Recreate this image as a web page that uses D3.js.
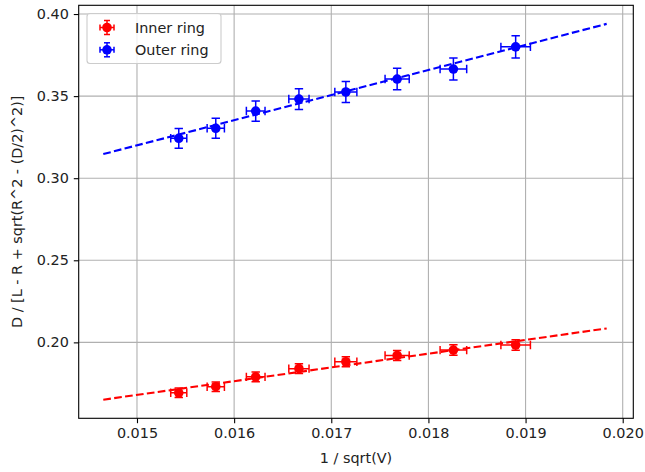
<!DOCTYPE html>
<html><head><meta charset="utf-8">
<script src="https://cdn.jsdelivr.net/npm/d3@7"></script>
<style>body{margin:0;background:#fff}svg{display:block}text{font-family:"DejaVu Sans",sans-serif;fill:#222}</style>
</head><body>
<script>
const xVals = [0.015430, 0.015811, 0.016222, 0.016667, 0.017150, 0.017678, 0.018257, 0.018898];
const xErr = [0.0000827, 0.0000889, 0.0000960, 0.0001042, 0.0001135, 0.0001243, 0.0001369, 0.0001519];
const innerY = [0.1693, 0.1730, 0.1790, 0.1840, 0.1882, 0.1920, 0.1953, 0.1984];
const innerErr = [0.0029, 0.0029, 0.0030, 0.0030, 0.0031, 0.0031, 0.0032, 0.0032];
const outerY = [0.3243, 0.3304, 0.3409, 0.3482, 0.3525, 0.3604, 0.3665, 0.3800];
const outerErr = [0.0060, 0.0061, 0.0062, 0.0063, 0.0064, 0.0065, 0.0067, 0.0068];
const fitX = [0.014653, 0.019835];
const innerFit = [0.1651, 0.2085];
const outerFit = [0.3147, 0.3940];
const xTicks = [0.015, 0.016, 0.017, 0.018, 0.019, 0.020];
const yTicks = [0.20, 0.25, 0.30, 0.35, 0.40];
const seriesNames = ["Inner ring", "Outer ring"];
const seriesColors = ["#ff0000", "#0000ff"];

const W = 645, H = 472;
const L = 78.7, R = 633.3, T = 5.3, B = 418.3;
const FS = "14.4px";
const svg = d3.select("body").append("svg").attr("width", W).attr("height", H);
const x = d3.scaleLinear().domain([0.014400, 0.020109]).range([L, R]);
const y = d3.scaleLinear().domain([0.15375, 0.40532]).range([B, T]);

// grid
const g = svg.append("g");
g.selectAll(".gx").data(xTicks).join("line")
  .attr("x1", d => x(d)).attr("x2", d => x(d)).attr("y1", T).attr("y2", B)
  .attr("stroke", "#b0b0b0").attr("stroke-width", 1.1);
g.selectAll(".gy").data(yTicks).join("line")
  .attr("y1", d => y(d)).attr("y2", d => y(d)).attr("x1", L).attr("x2", R)
  .attr("stroke", "#b0b0b0").attr("stroke-width", 1.1);

// axes
const xAxis = d3.axisBottom(x).tickValues(xTicks).tickFormat(d3.format(".3f")).tickSizeOuter(0).tickSize(4.9).tickPadding(4.9);
const yAxis = d3.axisLeft(y).tickValues(yTicks).tickFormat(d3.format(".2f")).tickSizeOuter(0).tickSize(4.9).tickPadding(4.9);
const ax = svg.append("g").attr("transform", `translate(0,${B})`).call(xAxis);
const ay = svg.append("g").attr("transform", `translate(${L},0)`).call(yAxis);
[ax, ay].forEach(a => {
  a.select(".domain").remove();
  a.selectAll(".tick line").attr("stroke", "#000").attr("stroke-width", 1.1);
  a.selectAll(".tick text").style("font-size", FS).style("font-family", "DejaVu Sans").attr("fill", "#222");
});

const series = [
  {ys: innerY, err: innerErr, fit: innerFit, color: seriesColors[0]},
  {ys: outerY, err: outerErr, fit: outerFit, color: seriesColors[1]}
];

const clip = svg.append("clipPath").attr("id", "c").append("rect").attr("x", L).attr("y", T).attr("width", R - L).attr("height", B - T);
const plot = svg.append("g").attr("clip-path", "url(#c)");
const line = d3.line().x(d => x(d[0])).y(d => y(d[1]));

series.forEach(s => {
  const pts = xVals.map((xv, i) => ({x: xv, y: s.ys[i], ex: xErr[i], ey: s.err[i]}));
  const eg = plot.append("g").attr("stroke", s.color).attr("stroke-width", 1.5);
  pts.forEach(p => {
    const cx = x(p.x), cy = y(p.y);
    const x0 = x(p.x - p.ex), x1 = x(p.x + p.ex), y0 = y(p.y - p.ey), y1 = y(p.y + p.ey);
    const c = 4.2;
    eg.append("line").attr("x1", x0).attr("x2", x1).attr("y1", cy).attr("y2", cy);
    eg.append("line").attr("x1", cx).attr("x2", cx).attr("y1", y0).attr("y2", y1);
    eg.append("line").attr("x1", x0).attr("x2", x0).attr("y1", cy - c).attr("y2", cy + c);
    eg.append("line").attr("x1", x1).attr("x2", x1).attr("y1", cy - c).attr("y2", cy + c);
    eg.append("line").attr("x1", cx - c).attr("x2", cx + c).attr("y1", y0).attr("y2", y0);
    eg.append("line").attr("x1", cx - c).attr("x2", cx + c).attr("y1", y1).attr("y2", y1);
  });
  plot.append("g").selectAll("circle").data(pts).join("circle")
    .attr("cx", d => x(d.x)).attr("cy", d => y(d.y)).attr("r", 4.8).attr("fill", s.color);
  plot.append("path").datum([[fitX[0], s.fit[0]], [fitX[1], s.fit[1]]])
    .attr("d", line).attr("fill", "none").attr("stroke", s.color)
    .attr("stroke-width", 2.1).attr("stroke-dasharray", "7.7,3.3");
});

// frame
svg.append("rect").attr("x", L).attr("y", T).attr("width", R - L).attr("height", B - T)
  .attr("fill", "none").attr("stroke", "#000").attr("stroke-width", 1.1);

// labels
svg.append("text").attr("x", (L + R) / 2).attr("y", 463).attr("text-anchor", "middle")
  .style("font-size", FS).text("1 / sqrt(V)");
svg.append("text").attr("transform", `translate(22,${(T + B) / 2}) rotate(-90)`).attr("text-anchor", "middle")
  .style("font-size", FS).text("D / [L - R + sqrt(R^2 - (D/2)^2)]");

// legend
const lg = svg.append("g");
lg.append("rect").attr("x", 87).attr("y", 13.5).attr("width", 134).attr("height", 50).attr("rx", 3)
  .attr("fill", "#fff").attr("fill-opacity", 0.8).attr("stroke", "#ccc").attr("stroke-width", 1.1);
seriesNames.forEach((n, i) => {
  const cy = 27.5 + i * 22.3, cx = 107;
  const col = seriesColors[i];
  const gg = lg.append("g").attr("stroke", col).attr("stroke-width", 1.5);
  gg.append("line").attr("x1", cx - 7).attr("x2", cx + 7).attr("y1", cy).attr("y2", cy);
  gg.append("line").attr("x1", cx).attr("x2", cx).attr("y1", cy - 7).attr("y2", cy + 7);
  gg.append("line").attr("x1", cx - 7).attr("x2", cx - 7).attr("y1", cy - 3).attr("y2", cy + 3);
  gg.append("line").attr("x1", cx + 7).attr("x2", cx + 7).attr("y1", cy - 3).attr("y2", cy + 3);
  gg.append("line").attr("x1", cx - 3).attr("x2", cx + 3).attr("y1", cy - 7).attr("y2", cy - 7);
  gg.append("line").attr("x1", cx - 3).attr("x2", cx + 3).attr("y1", cy + 7).attr("y2", cy + 7);
  lg.append("circle").attr("cx", cx).attr("cy", cy).attr("r", 4.8).attr("fill", col);
  lg.append("text").attr("x", 135).attr("y", cy + 5).style("font-size", FS).text(n);
});
</script>
</body></html>
